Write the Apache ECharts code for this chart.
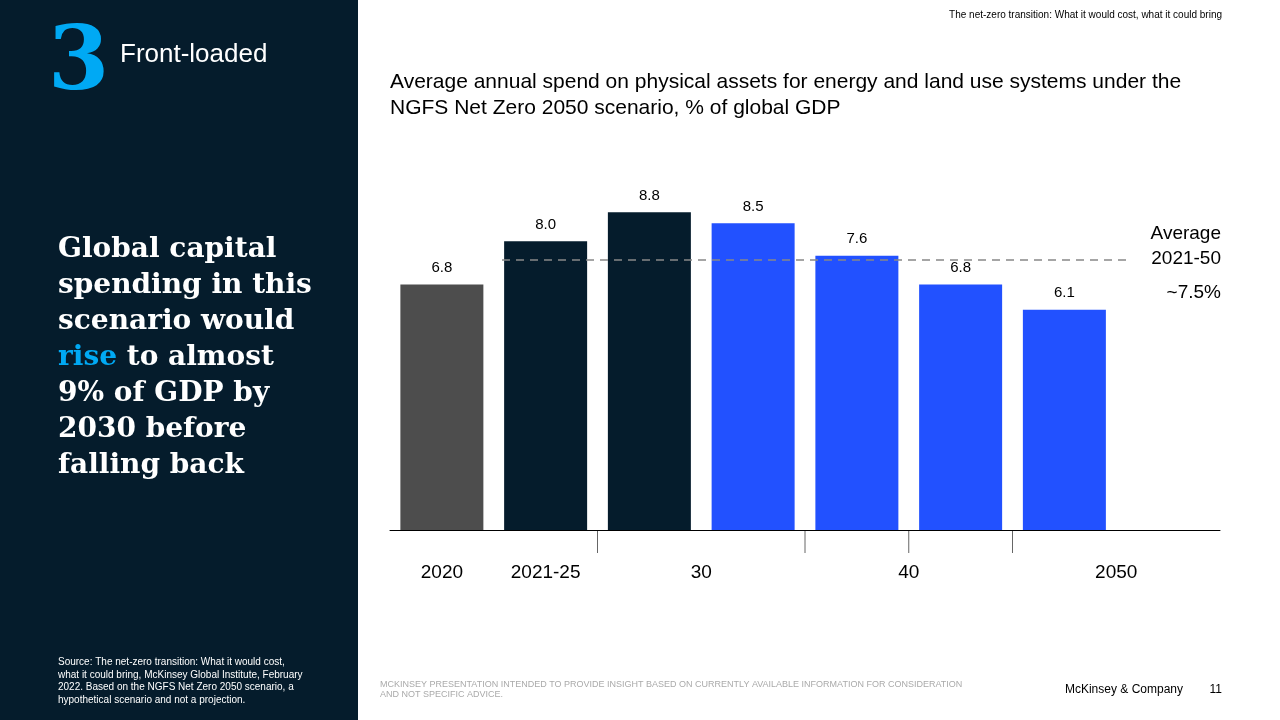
<!DOCTYPE html>
<html><head><meta charset="utf-8">
<script src="https://cdn.jsdelivr.net/npm/echarts@6/dist/echarts.min.js"></script>
<style>html,body{margin:0;padding:0;background:#fff}#c{width:1280px;height:720px}</style>
</head><body><div id="c"></div>
<script>
const categories = ['2020','2021-25','26-30','31-35','36-40','41-45','46-50',''];
const values = [6.8, 8.0, 8.8, 8.5, 7.6, 6.8, 6.1, null];
const barColors = ['#4d4d4d','#051c2c','#051c2c','#2251ff','#2251ff','#2251ff','#2251ff','#2251ff'];
const averageValue = 7.5;
const tickLabels = [['2020',0],['2021-25',1],['30',2.5],['40',4.5],['2050',6.5]];
const tickMarks = [1.5, 3.5, 4.5, 5.5];

const chart = echarts.init(document.getElementById('c'));
const F = 'Liberation Sans, Arial, sans-serif';
const S = 'DejaVu Serif, Georgia, serif';
const gL = 390, gR = 1220, slot = (gR - gL) / categories.length;
const xAt = i => gL + slot * (i + 0.5);
const graphics = [
  {type:'rect', shape:{x:0,y:0,width:358,height:720}, style:{fill:'#051c2c'}},
  {type:'text', x:48, y:22, style:{text:'3', font:'bold 88px '+S, fill:'#00a9f4'}},
  {type:'text', x:120, y:42, style:{text:'Front-loaded', font:'26px '+F, fill:'#fff'}},
  {type:'text', x:58, y:232, style:{
    rich:{w:{font:'bold 28px '+S, fill:'#fff', lineHeight:36}, b:{font:'bold 28px '+S, fill:'#00a9f4', lineHeight:36}},
    text:'{w|Global capital}\n{w|spending in this}\n{w|scenario would}\n{b|rise}{w| to almost}\n{w|9% of GDP by}\n{w|2030 before}\n{w|falling back}'}},
  {type:'text', x:58, y:656, style:{text:'Source: The net-zero transition: What it would cost,\nwhat it could bring, McKinsey Global Institute, February\n2022. Based on the NGFS Net Zero 2050 scenario, a\nhypothetical scenario and not a projection.', font:'10px '+F, fill:'#fff', lineHeight:12.5}},
  {type:'text', x:1222, y:10, style:{text:'The net-zero transition: What it would cost, what it could bring', font:'10px '+F, fill:'#000', align:'right'}},
  {type:'text', x:390, y:69, style:{text:'Average annual spend on physical assets for energy and land use systems under the\nNGFS Net Zero 2050 scenario, % of global GDP', font:'21px '+F, fill:'#000', lineHeight:26}},
  {type:'text', x:1221, y:221, style:{text:'Average\n2021-50', font:'19px '+F, fill:'#000', align:'right', lineHeight:25}},
  {type:'text', x:1221, y:283, style:{text:'~7.5%', font:'19px '+F, fill:'#000', align:'right'}},
  {type:'text', x:380, y:680, style:{text:'MCKINSEY PRESENTATION INTENDED TO PROVIDE INSIGHT BASED ON CURRENTLY AVAILABLE INFORMATION FOR CONSIDERATION\nAND NOT SPECIFIC ADVICE.', font:'9px '+F, fill:'#aaa', lineHeight:10}},
  {type:'text', x:1183, y:684, style:{text:'McKinsey & Company', font:'12px '+F, fill:'#000', align:'right'}},
  {type:'text', x:1222, y:684, style:{text:'11', font:'12px '+F, fill:'#000', align:'right'}}
];
tickMarks.forEach(t => graphics.push({type:'line', shape:{x1:xAt(t),y1:530,x2:xAt(t),y2:553}, style:{stroke:'#666',lineWidth:1}}));
tickLabels.forEach(([t,p]) => graphics.push({type:'text', x:xAt(p), y:563, style:{text:t, font:'19px '+F, fill:'#000', align:'center'}}));

chart.setOption({
  animation:false,
  grid:{left:gL, right:1280-gR, top:169, bottom:190},
  xAxis:{type:'category', data:categories, axisLine:{lineStyle:{color:'#000'}}, axisTick:{show:false}, axisLabel:{show:false}},
  yAxis:{type:'value', min:0, max:10, show:false},
  series:[{type:'bar', barWidth:83,
    data: values.map((v,i)=>({value:v, itemStyle:{color:barColors[i]}})),
    label:{show:true, position:'top', distance:9, formatter:p=>p.value.toFixed(1), fontSize:15, fontFamily:F, color:'#000'},
    markLine:{silent:true, symbol:'none', label:{show:false}, lineStyle:{color:'#888', type:[8,6], width:1.5},
      data:[[{coord:[0,averageValue], x:502},{x:1128, coord:[7,averageValue]}]]}
  }],
  graphic: graphics
});
</script></body></html>
